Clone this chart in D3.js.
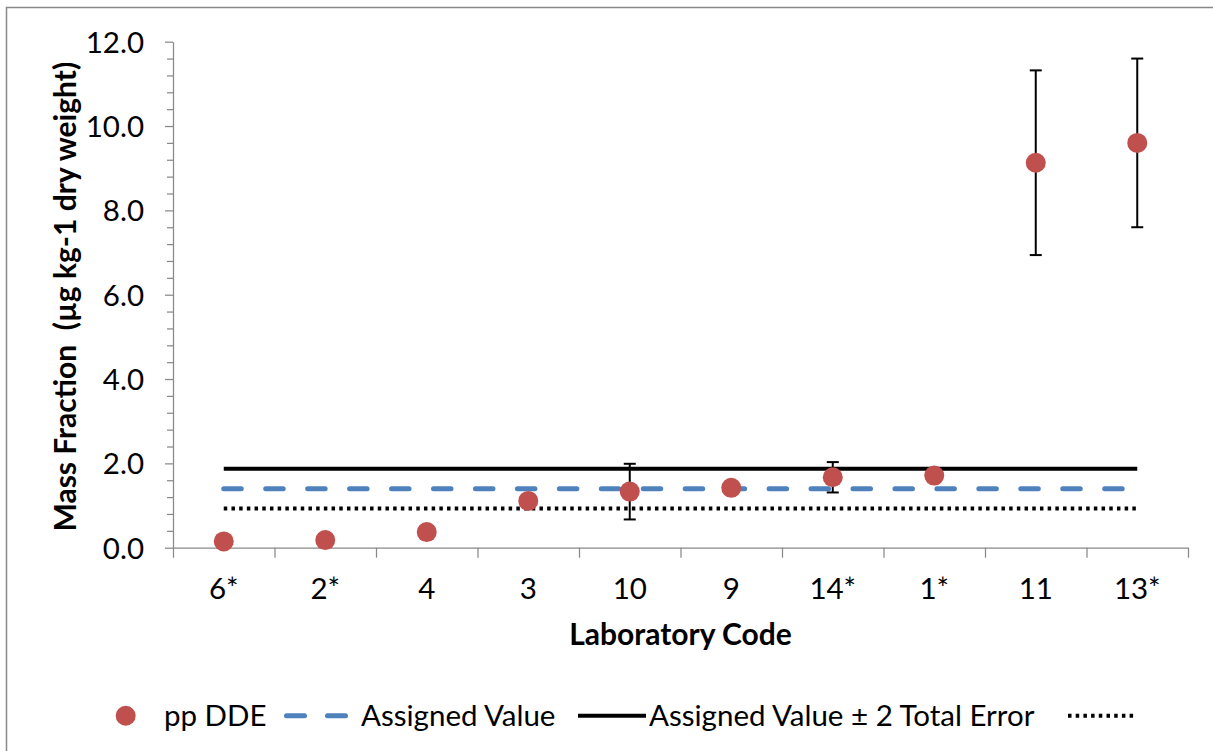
<!DOCTYPE html>
<html>
<head>
<meta charset="utf-8">
<script src="https://cdn.jsdelivr.net/npm/d3@7"></script>
<style>
  html, body { margin: 0; padding: 0; background: #fff; }
  svg { display: block; font-family: Lato, "Open Sans", sans-serif; }
  .axis text { font-family: Lato, "Open Sans", sans-serif; }
</style>
</head>
<body>
<svg id="chart" width="1213" height="751"></svg>
<script>
// Laboratory results for pp DDE, in plotting order
const labCodes = ["6*", "2*", "4", "3", "10", "9", "14*", "1*", "11", "13*"];
const ppDDE = [0.15, 0.18, 0.37, 1.11, 1.33, 1.42, 1.67, 1.71, 9.13, 9.60];
// reported expanded uncertainty (null where none was given)
const ppDDEError = [null, null, null, null, 0.66, null, 0.36, null, 2.19, 2.00];

// assigned value and its ± 2 total error limits
const assignedValue = 1.40;
const upperLimit = 1.87;
const lowerLimit = 0.93;

const yTicks = [0, 2, 4, 6, 8, 10, 12];
const yMinorStep = 0.4;
const legendNames = ["pp DDE", "Assigned Value", "Assigned Value \u00B1 2 Total Error", ""];

const svg = d3.select("#chart");
const W = 1213, H = 751;
const plot = { left: 173, right: 1188, top: 41.7, bottom: 547.7 };
const axisGrey = "#898989";
const markerRed = "#C0504D";
const lineBlue = "#4F81BD";
const fontSize = 29.5;
const titleSize = 30;

// outer chart frame
svg.append("rect")
  .attr("x", 6.5).attr("y", 7.5)
  .attr("width", W + 20).attr("height", H + 20)
  .attr("fill", "none").attr("stroke", axisGrey).attr("stroke-width", 1.5);

const x = d3.scaleBand().domain(labCodes).range([plot.left, plot.right]);
const xEdge = d3.scaleLinear().domain([0, labCodes.length]).range([plot.left, plot.right]);
const y = d3.scaleLinear().domain([0, 12]).range([plot.bottom, plot.top]);
const cx = d => x(d) + x.bandwidth() / 2;

// y axis: minor ticks, then major ticks with labels
const minorVals = d3.range(0, 12 + 1e-9, yMinorStep).filter(v => Math.abs(v / 2 - Math.round(v / 2)) > 1e-6);
const yMinor = svg.append("g").attr("transform", `translate(${plot.left},0)`)
  .call(d3.axisLeft(y).tickValues(minorVals).tickSize(6).tickFormat(""));
yMinor.select(".domain").remove();
yMinor.selectAll("line").attr("stroke", axisGrey).attr("stroke-width", 1.25);

const yAxis = svg.append("g").attr("class", "axis").attr("transform", `translate(${plot.left},0)`)
  .call(d3.axisLeft(y).tickValues(yTicks).tickSize(8).tickSizeOuter(0).tickPadding(21).tickFormat(d3.format(".1f")));
yAxis.select(".domain").attr("stroke", axisGrey).attr("stroke-width", 1.25);
yAxis.selectAll(".tick line").attr("stroke", axisGrey).attr("stroke-width", 1.25);
yAxis.selectAll("text").attr("font-size", fontSize).attr("fill", "#000").attr("dy", "0.35em");

// x axis: category boundary ticks and centred labels
const xTicks = svg.append("g").attr("transform", `translate(0,${plot.bottom})`)
  .call(d3.axisBottom(xEdge).tickValues(d3.range(0, labCodes.length + 1)).tickSize(10).tickSizeOuter(0).tickFormat(""));
xTicks.select(".domain").attr("stroke", axisGrey).attr("stroke-width", 1.25);
xTicks.selectAll("line").attr("stroke", axisGrey).attr("stroke-width", 1.25);

const xAxis = svg.append("g").attr("class", "axis").attr("transform", `translate(0,${plot.bottom})`)
  .call(d3.axisBottom(x).tickSize(0).tickSizeOuter(0));
xAxis.select(".domain").remove();
xAxis.selectAll("text").attr("font-size", fontSize).attr("fill", "#000").attr("y", 51.3).attr("dy", 0);

// axis titles
svg.append("text")
  .attr("x", (plot.left + plot.right) / 2).attr("y", 645)
  .attr("text-anchor", "middle").attr("font-size", titleSize).attr("font-weight", "bold")
  .text("Laboratory Code");
svg.append("text")
  .attr("transform", `translate(76,${(plot.top + plot.bottom) / 2 + 2}) rotate(-90)`)
  .attr("text-anchor", "middle").attr("font-size", titleSize).attr("font-weight", "bold")
  .style("white-space", "pre")
  .text("Mass Fraction  (\u00B5g kg-1 dry weight)");

// reference lines spanning first to last laboratory
const first = labCodes[0], last = labCodes[labCodes.length - 1];
const hline = v => d3.line()([[cx(first), y(v)], [cx(last), y(v)]]);

svg.append("path").attr("d", hline(upperLimit))
  .attr("stroke", "#000").attr("stroke-width", 4).attr("fill", "none");
svg.append("path").attr("d", hline(assignedValue))
  .attr("stroke", lineBlue).attr("stroke-width", 5).attr("fill", "none")
  .attr("stroke-linecap", "round").attr("stroke-dasharray", "17.5 24.45");
svg.append("path").attr("d", hline(lowerLimit))
  .attr("stroke", "#000").attr("stroke-width", 4).attr("fill", "none")
  .attr("stroke-dasharray", "3.5 4.2");

// results with uncertainty bars
const results = labCodes.map((c, i) => ({ code: c, value: ppDDE[i], err: ppDDEError[i] }));
const withErr = results.filter(d => d.err != null);
const eb = svg.append("g").attr("stroke", "#000").attr("stroke-width", 2);
eb.selectAll("line.v").data(withErr).join("line").attr("class", "v")
  .attr("x1", d => cx(d.code)).attr("x2", d => cx(d.code))
  .attr("y1", d => y(d.value + d.err)).attr("y2", d => y(d.value - d.err));
eb.selectAll("line.t").data(withErr).join("line").attr("class", "t")
  .attr("x1", d => cx(d.code) - 6).attr("x2", d => cx(d.code) + 6)
  .attr("y1", d => y(d.value + d.err)).attr("y2", d => y(d.value + d.err));
eb.selectAll("line.b").data(withErr).join("line").attr("class", "b")
  .attr("x1", d => cx(d.code) - 6).attr("x2", d => cx(d.code) + 6)
  .attr("y1", d => y(d.value - d.err)).attr("y2", d => y(d.value - d.err));

svg.append("g").selectAll("circle").data(results).join("circle")
  .attr("cx", d => cx(d.code)).attr("cy", d => y(d.value))
  .attr("r", 10).attr("fill", markerRed);

// legend
const legY = 715.7, legBase = 725.5;
const lg = svg.append("g");
lg.append("circle").attr("cx", 125.7).attr("cy", legY).attr("r", 10).attr("fill", markerRed);
lg.append("line").attr("x1", 286.5).attr("x2", 345.5).attr("y1", legY).attr("y2", legY)
  .attr("stroke", lineBlue).attr("stroke-width", 5).attr("stroke-linecap", "round")
  .attr("stroke-dasharray", "18 23");
lg.append("line").attr("x1", 578).attr("x2", 646).attr("y1", legY).attr("y2", legY)
  .attr("stroke", "#000").attr("stroke-width", 4);
lg.append("line").attr("x1", 1068).attr("x2", 1135).attr("y1", legY).attr("y2", legY)
  .attr("stroke", "#000").attr("stroke-width", 4).attr("stroke-dasharray", "3.5 4.2");
const legTextX = [164, 361, 649, 1150];
lg.selectAll("text").data(legendNames).join("text")
  .attr("x", (d, i) => legTextX[i]).attr("y", legBase)
  .attr("font-size", fontSize).attr("fill", "#000")
  .text(d => d);
</script>
</body>
</html>
